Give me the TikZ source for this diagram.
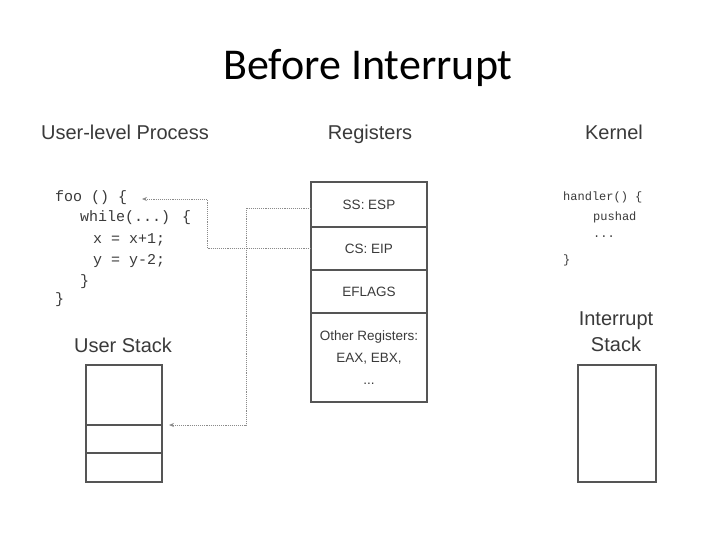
\documentclass[tikz,border=0pt]{standalone}
\usepackage{fontspec}
\setmainfont{Liberation Sans}
\newfontfamily\titlefont{Carlito}
\newfontfamily\codefont{Liberation Mono}
\usetikzlibrary{arrows.meta}
\definecolor{txt}{HTML}{3A3A3A}
\definecolor{boxline}{HTML}{555555}
\definecolor{dotline}{HTML}{8A8A8A}
\tikzset{
  header/.style={font=\fontsize{20}{22}\selectfont, text=txt, inner sep=0pt, anchor=base},
  codeline/.style={font=\codefont\fontsize{15}{17}\selectfont, text=txt, anchor=west, inner sep=0pt},
  kcode/.style={font=\codefont\fontsize{12}{14}\selectfont, text=txt, anchor=west, inner sep=0pt},
  regcell/.style={draw=boxline, line width=1.2pt, minimum width=116pt, inner sep=0pt, outer sep=0pt,
    font=\fontsize{13.5}{22}\selectfont, text=txt, align=center},
  stackcell/.style={draw=boxline, line width=1.2pt, minimum width=76pt, inner sep=0pt, outer sep=0pt},
  ptr/.style={dotline, densely dotted, line width=0.9pt, -{Stealth[length=5pt,width=4pt]}},
}
\begin{document}
\begin{tikzpicture}[x=1pt,y=-1pt]
\useasboundingbox (0,0) rectangle (720,540);
\fill[white] (0,0) rectangle (720,540);

\node[font=\titlefont\fontsize{44}{48}\selectfont, inner sep=0pt] (title) at (368,68) {Before Interrupt};

\node[header] (hproc) at (125,140) {User-level Process};
\node[header] (hreg) at (370,140) {Registers};
\node[header] (hker) at (614,140) {Kernel};

% user code
\node[codeline] (foo) at (55,198) {foo () \{};
\node[codeline] (while) at (80,218) {while(...) \{};
\node[codeline] (lx) at (93,240) {x = x+1;};
\node[codeline] (ly) at (93,261) {y = y-2;};
\node[codeline] (c1) at (80,282) {\}};
\node[codeline] (c2) at (55,300) {\}};
\coordinate (footip) at (142,199);

% kernel code
\node[kcode] (handler) at (563,197) {handler() \{};
\node[kcode] (push) at (593,217) {pushad};
\node[kcode] (dots) at (593,237) {...};
\node[kcode] (kc) at (563,260) {\}};

% registers
\node[regcell, minimum height=45pt, anchor=north west] (ss) at (311,182) {\raisebox{-3pt}{SS: ESP}};
\node[regcell, minimum height=43pt, anchor=north] (cs) at (ss.south) {CS: EIP};
\node[regcell, minimum height=43pt, anchor=north] (efl) at (cs.south) {EFLAGS};
\node[regcell, minimum height=89pt, anchor=north] (oth) at (efl.south) {Other Registers:\\EAX, EBX,\\...};

% user stack
\node[header] (hus) at (123,352) {User Stack};
\node[stackcell, minimum height=60pt, anchor=north west] (us1) at (86,365) {};
\node[stackcell, minimum height=28pt, anchor=north] (us2) at (us1.south) {};
\node[stackcell, minimum height=29pt, anchor=north] (us3) at (us2.south) {};
\coordinate (ustip) at (169,425);

% interrupt stack
\node[header] (his1) at (616,325) {Interrupt};
\node[header] (his2) at (616,351) {Stack};
\node[draw=boxline, line width=1.5pt, minimum width=78pt, minimum height=117pt, anchor=north west, inner sep=0pt, outer sep=0pt] (istack) at (578,365) {};

% pointers
\draw[ptr] (cs.west) -- ++(-104,0) |- (footip);
\draw[ptr] ([yshift=-4pt]ss.west) -- ++(-65,0) |- (ustip);
\end{tikzpicture}
\end{document}
